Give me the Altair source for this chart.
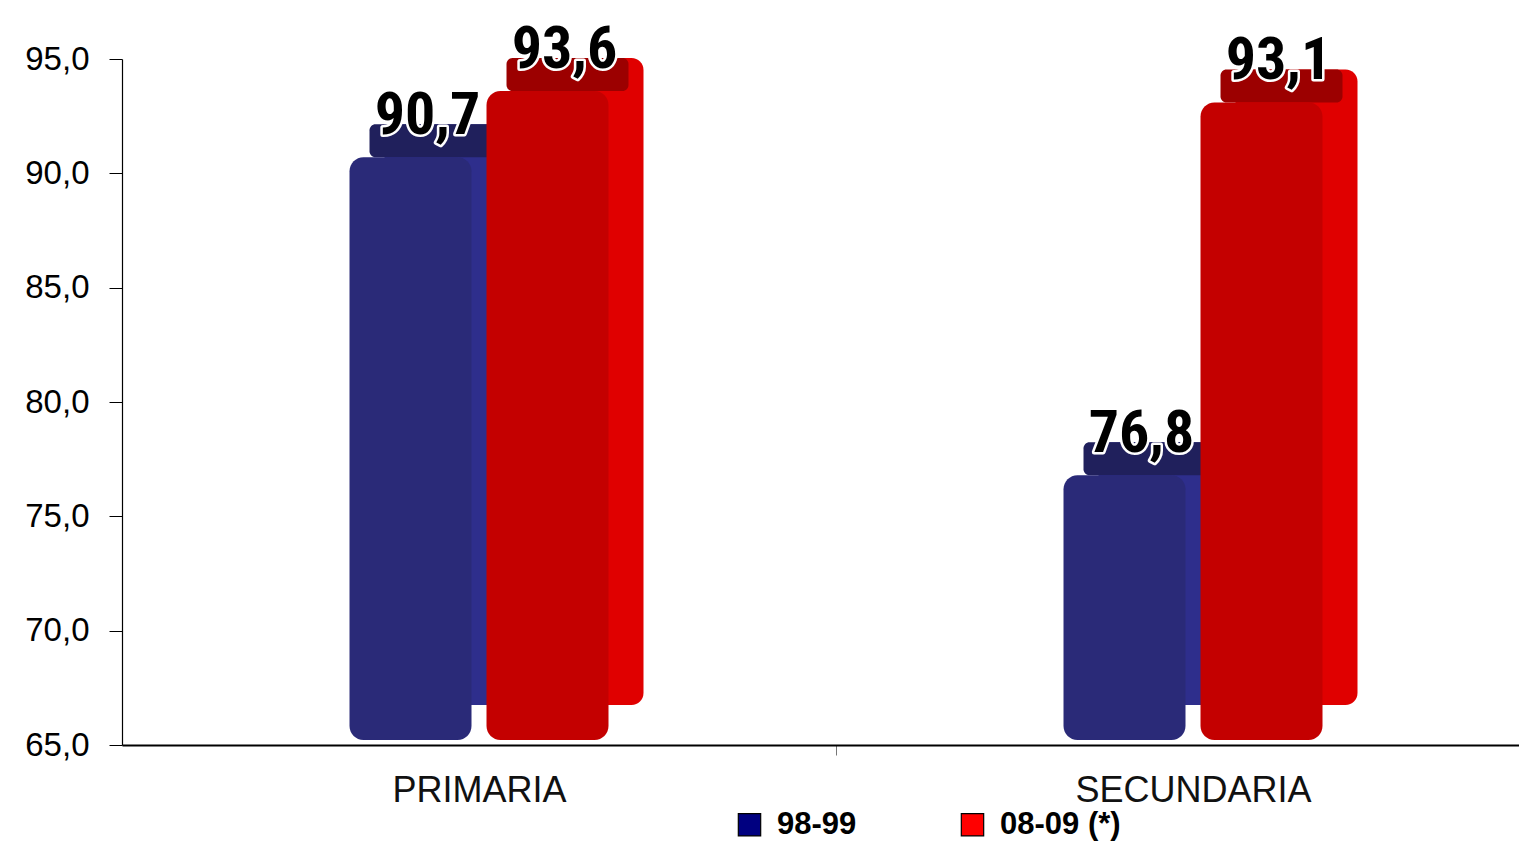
import altair as alt
import pandas as pd

categories = ["PRIMARIA", "PRIMARIA", "SECUNDARIA", "SECUNDARIA"]
series = ["98-99", "08-09 (*)", "98-99", "08-09 (*)"]
values = [90.7, 93.6, 76.8, 93.1]
labels = ["90,7", "93,6", "76,8", "93,1"]
y_ticks = [65, 70, 75, 80, 85, 90, 95]

series_order = ["98-99", "08-09 (*)"]
cat_order = ["PRIMARIA", "SECUNDARIA"]
front_colors = ["#2a2a78", "#c40000"]
side_colors = ["#2e2e8c", "#e00000"]
top_colors = ["#20205c", "#9c0000"]
legend_colors = ["#000080", "#ff0000"]

df = pd.DataFrame({"cat": categories, "serie": series, "valor": values, "etiqueta": labels})

FONT = "Liberation Sans, Arial, sans-serif"
LABEL_FONT = "Liberation Sans Narrow, Roboto Condensed, DejaVu Sans Condensed, sans-serif"

x_enc = alt.X(
    "cat:N",
    sort=cat_order,
    title=None,
    scale=alt.Scale(range=[0, 1428], paddingInner=0.4454, paddingOuter=0.2227),
    axis=alt.Axis(
        labelFont=FONT, labelFontSize=36, labelColor="#111111", labelAngle=0,
        labelLimit=500, labelPadding=18, tickSize=10, tickColor="#777777",
        tickOffset=357, labelOffset=-357,
        domainColor="#000000", domainWidth=1.8, grid=False,
    ),
)

def xoff(lo):
    return alt.XOffset("serie:N", sort=series_order,
                       scale=alt.Scale(type="band", range=[lo, lo + 396],
                                       paddingInner=0.1095, paddingOuter=0.5))

y_enc = alt.Y(
    "valor:Q",
    title=None,
    scale=alt.Scale(domain=[65, 95], zero=False, nice=False),
    axis=alt.Axis(
        values=y_ticks,
        labelExpr="replace(format(datum.value, '.1f'), '.', ',')",
        labelFont=FONT, labelFontSize=33, labelColor="#000000",
        labelPadding=20, tickSize=13, tickColor="#000000",
        domainColor="#000000", domainWidth=1.2, grid=False,
    ),
)

base = alt.Chart(df)

def col(rng):
    return alt.Color("serie:N", sort=series_order,
                     scale=alt.Scale(domain=series_order, range=rng), legend=None)

side = base.mark_bar(cornerRadius=12, yOffset=-33, y2Offset=-40).encode(
    x=x_enc, xOffset=xoff(35), y=y_enc, y2=alt.datum(65), color=col(side_colors)
)
top = base.mark_bar(cornerRadius=6, yOffset=-33, y2Offset=0).encode(
    x=x_enc, xOffset=xoff(20), y=y_enc, y2=alt.Y2("valor:Q"), color=col(top_colors)
)
front = base.mark_bar(cornerRadius=14, y2Offset=-5).encode(
    x=x_enc, xOffset=xoff(0), y=y_enc, y2=alt.datum(65), color=col(front_colors)
)

legend_layer = base.mark_point(shape="square", filled=True, opacity=0).encode(
    x=x_enc, xOffset=xoff(0), y=y_enc,
    fill=alt.Fill(
        "serie:N", sort=series_order,
        scale=alt.Scale(domain=series_order, range=legend_colors),
        legend=alt.Legend(
            title=None, orient="none", direction="horizontal",
            legendX=612, legendY=750, padding=0,
            symbolType="square", symbolSize=500, symbolOpacity=1,
            symbolStrokeColor="#000000", symbolStrokeWidth=1.2,
            labelFont=FONT, labelFontSize=31, labelFontWeight="bold",
            labelColor="#000000", labelOffset=12, columnPadding=100,
        ),
    ),
)

text_outline = base.mark_text(
    font=LABEL_FONT, fontSize=60, fontWeight="bold", baseline="alphabetic",
    dx=17, dy=-23, stroke="white", strokeWidth=5, strokeJoin="round", fill="white",
).encode(x=x_enc, xOffset=xoff(0), y=y_enc, text="etiqueta:N")
text = base.mark_text(
    font=LABEL_FONT, fontSize=60, fontWeight="bold", baseline="alphabetic",
    dx=17, dy=-23, color="#000000",
).encode(x=x_enc, xOffset=xoff(0), y=y_enc, text="etiqueta:N")

chart = alt.layer(side, top, front, legend_layer, text_outline, text).resolve_scale(
    color="independent", xOffset="independent"
).properties(
    width=1397, height=686,
    autosize=alt.AutoSizeParams(type="none"),
    padding={"left": 114, "top": 51, "right": 0, "bottom": 97},
    background="white",
).configure_view(stroke=None)

chart.save("out.html", embed_options={"renderer": "svg", "actions": False})
